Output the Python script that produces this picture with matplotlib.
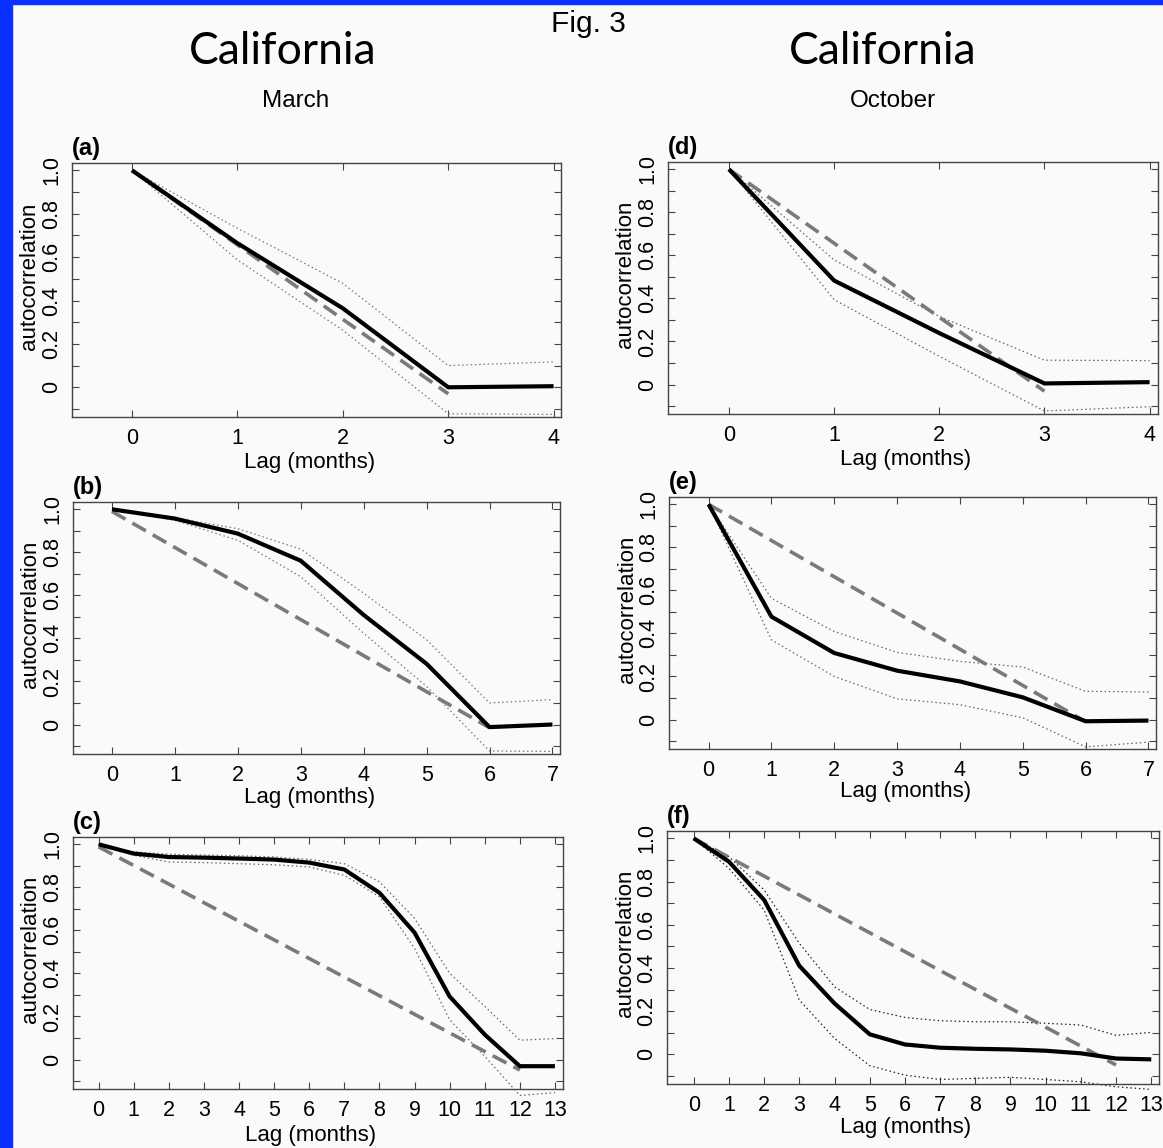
import numpy as np
import matplotlib.pyplot as plt
from matplotlib.patches import Rectangle

plt.rcParams['font.family'] = ['Liberation Sans', 'DejaVu Sans']

# March: (a), (b), (c)
lag_a = [0, 1, 2, 3, 4]
acf_a = [1.0, 0.664, 0.364, 0.0, 0.005]
upper_a = [1.0, 0.733, 0.479, 0.10, 0.117]
lower_a = [1.0, 0.587, 0.263, -0.122, -0.125]
ref_lag_a = [0, 3]
ref_a = [1.0, -0.03]

lag_b = [0, 1, 2, 3, 4, 5, 6, 7]
acf_b = [1.0, 0.957, 0.887, 0.761, 0.509, 0.282, -0.012, 0.0]
upper_b = [1.0, 0.96, 0.91, 0.815, 0.61, 0.394, 0.10, 0.116]
lower_b = [1.0, 0.949, 0.856, 0.687, 0.424, 0.177, -0.123, -0.125]
ref_lag_b = [0, 6]
ref_b = [0.99, -0.015]

lag_c = [0, 1, 2, 3, 4, 5, 6, 7, 8, 9, 10, 11, 12, 13]
acf_c = [1.0, 0.957, 0.941, 0.938, 0.934, 0.929, 0.915, 0.883, 0.775, 0.59, 0.293, 0.116, -0.031, -0.031]
upper_c = [1.0, 0.965, 0.954, 0.95, 0.947, 0.941, 0.93, 0.91, 0.826, 0.656, 0.401, 0.247, 0.09, 0.097]
lower_c = [1.0, 0.949, 0.918, 0.915, 0.91, 0.905, 0.895, 0.856, 0.756, 0.517, 0.185, 0.015, -0.167, -0.154]
ref_lag_c = [0, 12]
ref_c = [0.988, -0.049]

# October: (d), (e), (f)
lag_d = [0, 1, 2, 3, 4]
acf_d = [1.0, 0.483, 0.239, 0.005, 0.011]
upper_d = [1.0, 0.579, 0.316, 0.113, 0.111]
lower_d = [1.0, 0.394, 0.131, -0.123, -0.103]
ref_lag_d = [0, 3]
ref_d = [1.0, -0.031]

lag_e = [0, 1, 2, 3, 4, 5, 6, 7]
acf_e = [1.0, 0.478, 0.309, 0.227, 0.177, 0.103, -0.008, -0.005]
upper_e = [1.0, 0.563, 0.409, 0.312, 0.27, 0.244, 0.131, 0.128]
lower_e = [1.0, 0.37, 0.2, 0.096, 0.069, 0.008, -0.127, -0.105]
ref_lag_e = [0, 6]
ref_e = [1.0, -0.01]

lag_f = [0, 1, 2, 3, 4, 5, 6, 7, 8, 9, 10, 11, 12, 13]
acf_f = [1.0, 0.892, 0.715, 0.41, 0.236, 0.093, 0.046, 0.031, 0.026, 0.023, 0.017, 0.005, -0.019, -0.023]
upper_f = [1.0, 0.915, 0.761, 0.514, 0.313, 0.208, 0.171, 0.156, 0.151, 0.151, 0.144, 0.136, 0.088, 0.102]
lower_f = [1.0, 0.861, 0.668, 0.252, 0.074, -0.052, -0.096, -0.116, -0.111, -0.106, -0.116, -0.127, -0.15, -0.162]
ref_lag_f = [0, 12]
ref_f = [1.0, -0.049]

y_ticks = [0, 0.2, 0.4, 0.6, 0.8, 1.0]
y_ticklabels = ['0', '0.2', '0.4', '0.6', '0.8', '1.0']

W, H = 1163, 1148
fig = plt.figure(figsize=(W / 100, H / 100), dpi=100, facecolor='#fafafa')

# blue slide frame
fig.patches.append(Rectangle((0, 0), 12 / W, 1, transform=fig.transFigure, color='#0a30ff', zorder=0))
fig.patches.append(Rectangle((0, 1 - 4 / H), 1, 4 / H, transform=fig.transFigure, color='#0a30ff', zorder=0))

fig.text(588 / W, 1 - 24 / H, 'Fig. 3', fontsize=21.5, ha='center', va='center')
fig.text(283 / W, 1 - 52 / H, 'California', fontsize=32, family='Lato', ha='center', va='center')
fig.text(883 / W, 1 - 52 / H, 'California', fontsize=32, family='Lato', ha='center', va='center')
fig.text(296 / W, 1 - 101 / H, 'March', fontsize=17.5, ha='center', va='center')
fig.text(893 / W, 1 - 101 / H, 'October', fontsize=17.5, ha='center', va='center')

# tag, box (left, top, right, bottom in px), xlim, data..., dotted colour, x-label centre (px)
panels = [
    ('(a)', (72, 163, 561, 417), (-0.57, 4.07), lag_a, acf_a, upper_a, lower_a, ref_lag_a, ref_a, '#777777', 462),
    ('(b)', (73, 502, 560, 754), (-0.62, 7.12), lag_b, acf_b, upper_b, lower_b, ref_lag_b, ref_b, '#777777', 797),
    ('(c)', (73, 837, 563, 1089), (-0.73, 13.23), lag_c, acf_c, upper_c, lower_c, ref_lag_c, ref_c, '#666666', 1136),
    ('(d)', (668, 162, 1158, 414), (-0.58, 4.08), lag_d, acf_d, upper_d, lower_d, ref_lag_d, ref_d, '#666666', 459),
    ('(e)', (669, 497, 1156, 749), (-0.63, 7.12), lag_e, acf_e, upper_e, lower_e, ref_lag_e, ref_e, '#666666', 792),
    ('(f)', (667, 831, 1159, 1084), (-0.76, 13.22), lag_f, acf_f, upper_f, lower_f, ref_lag_f, ref_f, '#222222', 1128),
]

for tag, (l, t, r, b), xlim, lag, acf, up, lo, rlag, ref, dotcol, lab_y in panels:
    ax = fig.add_axes([l / W, 1 - b / H, (r - l) / W, (b - t) / H])
    ax.set_facecolor('#fafafa')

    ax.plot(lag, up, color=dotcol, lw=0.9, linestyle=(0, (1.2, 2.2)), clip_on=False)
    ax.plot(lag, lo, color=dotcol, lw=0.9, linestyle=(0, (1.2, 2.2)), clip_on=False)
    ax.plot(rlag, ref, color='#7a7a7a', lw=2.6, linestyle=(0, (4.3, 2.2)))
    ax.plot(lag, acf, color='black', lw=3.0, solid_capstyle='butt')

    ax.set_xlim(*xlim)
    ax.set_ylim(-0.137, 1.034)
    ax.set_xticks(lag)
    ax.set_xticklabels([str(v) for v in lag])
    ax.set_yticks(y_ticks)
    ax.set_yticklabels(y_ticklabels)
    ax.set_yticks(np.arange(-0.1, 1.0, 0.2), minor=True)
    ax.tick_params(which='both', direction='in', top=True, right=True,
                   length=5, width=0.8, color='#444444', labelsize=15.5)
    ax.tick_params(axis='x', pad=8)
    ax.tick_params(axis='y', pad=7)
    for lab in ax.get_yticklabels():
        lab.set_rotation(90)
        lab.set_va('center')
    for sp in ax.spines.values():
        sp.set_color('#444444')
        sp.set_linewidth(1.0)

    ax.set_xlabel('Lag (months)', fontsize=16)
    ax.xaxis.label.set_va('center')
    ax.xaxis.set_label_coords(0.485, -(lab_y - b) / (b - t))
    ax.set_ylabel('autocorrelation', fontsize=16)
    ax.yaxis.label.set_va('center')
    ax.yaxis.set_label_coords(-42 / (r - l), 0.555)

    ax.text(0.0, 1 + 3 / (b - t), tag, transform=ax.transAxes, fontsize=17,
            fontweight='bold', ha='left', va='bottom')

fig.savefig('out.png', dpi=100, facecolor=fig.get_facecolor())
